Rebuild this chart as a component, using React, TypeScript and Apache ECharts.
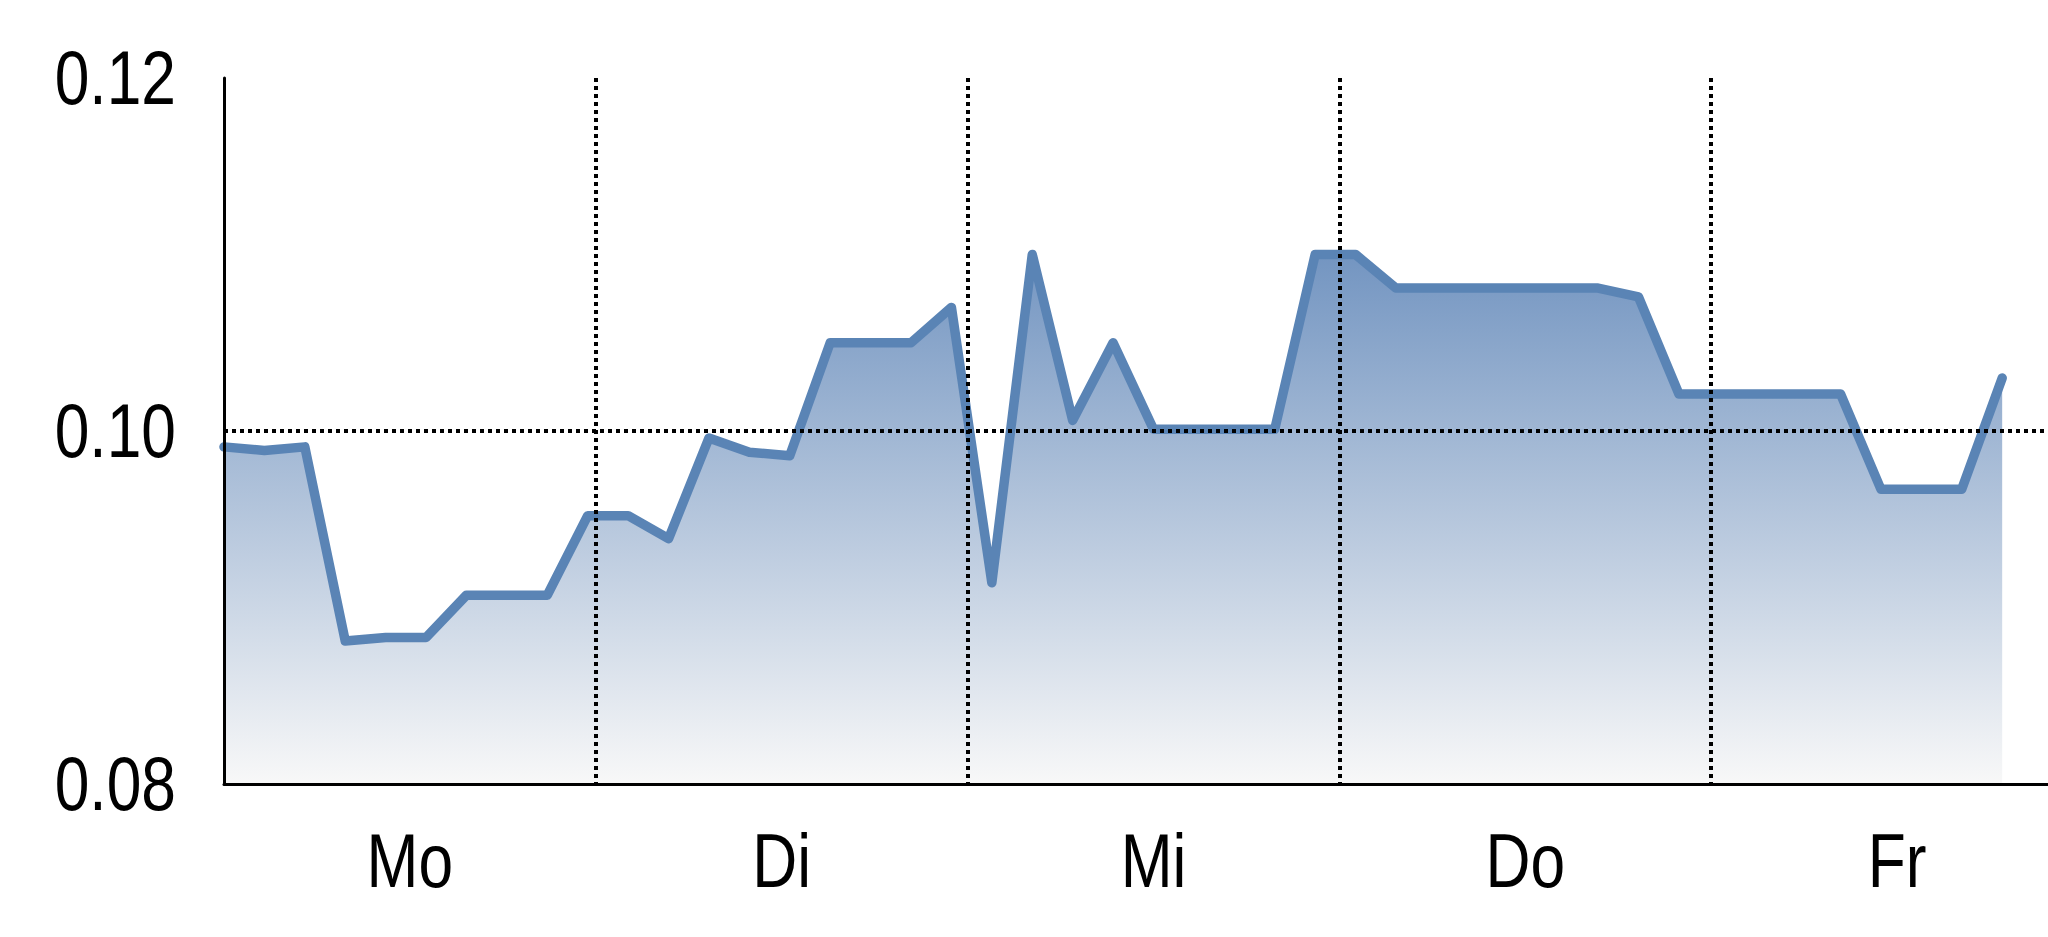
import React, { useEffect, useRef } from "react";
import * as echarts from "echarts";

const days = ["Mo", "Di", "Mi", "Do", "Fr"];
const yTicks = [0.08, 0.1, 0.12];
const values = [
  0.0991, 0.0989, 0.0991, 0.0881, 0.0883, 0.0883, 0.0907, 0.0907, 0.0907,
  0.0952, 0.0952, 0.0939, 0.0996, 0.0988, 0.0986, 0.105, 0.105, 0.105,
  0.107, 0.0914, 0.11, 0.1006, 0.105, 0.1001, 0.1001, 0.1001, 0.1001,
  0.11, 0.11, 0.1081, 0.1081, 0.1081, 0.1081, 0.1081, 0.1081, 0.1076,
  0.1021, 0.1021, 0.1021, 0.1021, 0.1021, 0.0967, 0.0967, 0.0967, 0.103,
];
const stepCount = 46;

const FONT = "'Liberation Sans', Arial, sans-serif";
const FONT_SIZE = 76;
const NARROW = 0.82;

export default function App() {
  const ref = useRef<HTMLDivElement>(null);
  useEffect(() => {
    document.body.style.margin = "0";
    const chart = echarts.init(ref.current!, null, { renderer: "svg" });
    const dotted = { color: "#000", width: 4, type: [4, 4] as any };
    const none = "rgba(0,0,0,0)";
    chart.setOption({
      animation: false,
      backgroundColor: "#fff",
      grid: { left: 224, right: 0, top: 78, bottom: 153, containLabel: false },
      xAxis: [
        {
          type: "category",
          data: days,
          boundaryGap: true,
          z: 5,
          axisLine: { show: true, lineStyle: { color: "#000", width: 3 } },
          axisTick: { show: false },
          axisLabel: { show: false },
          splitLine: {
            show: true,
            interval: 0,
            lineStyle: { ...dotted, color: [none, "#000", "#000", "#000", "#000", "#000"] },
          },
        },
        {
          type: "value",
          min: 0,
          max: stepCount,
          show: false,
          splitLine: { show: false },
        },
      ],
      yAxis: {
        type: "value",
        min: yTicks[0],
        max: yTicks[yTicks.length - 1],
        interval: 0.02,
        z: 6,
        axisLine: { show: true, lineStyle: { color: "#000", width: 3 } },
        axisTick: { show: false },
        axisLabel: { show: false },
        splitLine: {
          show: true,
          lineStyle: { ...dotted, color: [none, "#000", none] },
        },
      },
      series: [
        {
          type: "line",
          xAxisIndex: 1,
          data: values.map((v, i) => [i, v]),
          showSymbol: false,
          symbol: "none",
          z: 2,
          lineStyle: { color: "#5a84b5", width: 9.5, cap: "round", join: "round" },
          areaStyle: {
            color: new echarts.graphic.LinearGradient(0, 0, 0, 1, [
              { offset: 0, color: "#7395c1" },
              { offset: 1, color: "#f8f8f8" },
            ]),
            opacity: 1,
          },
        },
      ],
    });

    // Condensed tick labels, positioned through the axes' own scales
    const axisY = chart.convertToPixel({ yAxisIndex: 0 }, yTicks[0]) as number;
    const gridLeft = chart.convertToPixel({ xAxisIndex: 1 }, 0) as number;
    const labelTexts: any[] = [];
    yTicks.forEach((t) => {
      const py = chart.convertToPixel({ yAxisIndex: 0 }, t) as number;
      labelTexts.push({
        type: "text",
        x: gridLeft - 48,
        y: py,
        scaleX: NARROW,
        style: {
          text: t.toFixed(2),
          fill: "#000",
          font: `${FONT_SIZE}px ${FONT}`,
          align: "right",
          verticalAlign: "middle",
        },
      });
    });
    days.forEach((d) => {
      const px = chart.convertToPixel({ xAxisIndex: 0 }, d) as number;
      labelTexts.push({
        type: "text",
        x: px,
        y: axisY + 77,
        scaleX: NARROW,
        style: {
          text: d,
          fill: "#000",
          font: `${FONT_SIZE}px ${FONT}`,
          align: "center",
          verticalAlign: "middle",
        },
      });
    });
    chart.setOption({ graphic: labelTexts });
    return () => chart.dispose();
  }, []);
  return (
    <div style={{ position: "fixed", left: 0, top: 0, width: 2048, height: 937, overflow: "hidden" }}>
      <div ref={ref} style={{ width: 2083, height: 937 }} />
    </div>
  );
}
